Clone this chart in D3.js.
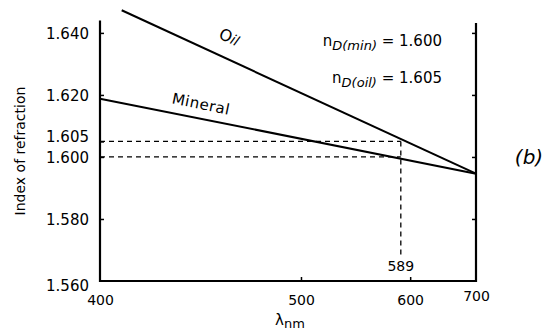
<!DOCTYPE html>
<html><head><meta charset="utf-8">
<script src="https://cdn.jsdelivr.net/npm/d3@7"></script>
<style>
body{margin:0;background:#fff;}
svg text{font-family:"DejaVu Sans",sans-serif;fill:#000;}
</style></head>
<body><svg id="c" width="547" height="335"></svg>
<script>
// Data
const xTicks = [400, 500, 600, 700];
const yLabelTicks = [1.640, 1.620, 1.605, 1.600, 1.580, 1.560];
const yRightTicks = [1.640, 1.620, 1.600, 1.580];
const oilLambda = [408, 700];
const oilN = [1.6473, 1.5946];
const mineralLambda = [400, 700];
const mineralN = [1.6188, 1.5946];
const sodiumD = 589;
const nDmin = 1.600;
const nDoil = 1.605;
const xDomain = [400, 700];
const yDomain = [1.560, 1.644];

const svg = d3.select("#c");
const x = d3.scalePow().exponent(-2).domain(xDomain).range([100, 476]);
const y = d3.scaleLinear().domain(yDomain).range([281, 20.5]);

// axes
const left = svg.append("g").attr("transform", `translate(${x(400)},0)`)
  .call(d3.axisLeft(y).tickValues(yLabelTicks).tickSize(-4).tickPadding(11).tickFormat(d3.format(".3f")));
left.select(".domain").remove();
left.selectAll("text").style("font-size", "15px").attr("dy", d => d === 1.605 ? "-0.0em" : d === 1.560 ? "0.6em" : "0.35em");
left.selectAll("line").attr("stroke-width", 1.5).filter(d => d === 1.560).remove();

const right = svg.append("g").attr("transform", `translate(${x(700)},0)`)
  .call(d3.axisRight(y).tickValues(yRightTicks).tickSize(-4).tickFormat(""));
right.select(".domain").remove();
right.selectAll("line").attr("stroke-width", 1.5);

const bottom = svg.append("g").attr("transform", `translate(0,${y(yDomain[0])})`)
  .call(d3.axisBottom(x).tickValues(xTicks).tickSize(-4).tickPadding(14).tickFormat(d3.format("d")));
bottom.select(".domain").remove();
bottom.selectAll("text").style("font-size", "14px").attr("dy", d => d === 700 ? "0.4em" : "0.71em");
bottom.selectAll("line").attr("stroke-width", 1.5).filter(d => d === 400 || d === 700).remove();

// frame lines
svg.append("line").attr("x1", x(400)).attr("x2", x(400)).attr("y1", y(yDomain[1])).attr("y2", y(yDomain[0]) + 1)
  .attr("stroke", "#000").attr("stroke-width", 2.2);
svg.append("line").attr("x1", x(700)).attr("x2", x(700)).attr("y1", y(yDomain[1]) + 2.5).attr("y2", y(yDomain[0]) + 1)
  .attr("stroke", "#000").attr("stroke-width", 2.2);
svg.append("line").attr("x1", x(400) - 1).attr("x2", x(700) + 1).attr("y1", y(yDomain[0])).attr("y2", y(yDomain[0]))
  .attr("stroke", "#000").attr("stroke-width", 2);

// dashed guides
const dash = "5,4";
svg.append("line").attr("x1", x(400)).attr("x2", x(sodiumD)).attr("y1", y(nDoil)).attr("y2", y(nDoil))
  .attr("stroke", "#000").attr("stroke-width", 1.3).attr("stroke-dasharray", dash);
svg.append("line").attr("x1", x(400)).attr("x2", x(sodiumD)).attr("y1", y(nDmin)).attr("y2", y(nDmin))
  .attr("stroke", "#000").attr("stroke-width", 1.3).attr("stroke-dasharray", dash);
svg.append("line").attr("x1", x(sodiumD)).attr("x2", x(sodiumD)).attr("y1", y(nDoil)).attr("y2", y(yDomain[0]) - 24)
  .attr("stroke", "#000").attr("stroke-width", 1.3).attr("stroke-dasharray", dash);
svg.append("text").attr("x", x(sodiumD)).attr("y", y(yDomain[0]) - 10).attr("text-anchor", "middle")
  .style("font-size", "14px").text(String(sodiumD));

// curves
const line = d3.line().x(d => x(d[0])).y(d => y(d[1]));
svg.append("path").attr("d", line(oilLambda.map((l, i) => [l, oilN[i]])))
  .attr("fill", "none").attr("stroke", "#000").attr("stroke-width", 2);
svg.append("path").attr("d", line(mineralLambda.map((l, i) => [l, mineralN[i]])))
  .attr("fill", "none").attr("stroke", "#000").attr("stroke-width", 2);

// line labels
svg.append("text").attr("transform", "translate(227,42) rotate(25)").attr("text-anchor", "middle")
  .style("font-size", "16px").html('O<tspan font-style="italic" font-size="14px">il</tspan>');
svg.append("text").attr("transform", "translate(200,109) rotate(11.5)").attr("text-anchor", "middle")
  .style("font-size", "15px").attr("letter-spacing", "0.5px").text("Mineral");

// annotations
const ann = svg.append("g");
const t1 = ann.append("text").attr("x", 442).attr("y", 46).attr("text-anchor", "end").style("font-size", "15px");
t1.append("tspan").text("n");
t1.append("tspan").attr("dy", 4).attr("font-style", "italic").attr("font-size", "13px").text("D(min)");
t1.append("tspan").attr("dy", -4).text(" = " + nDmin.toFixed(3));
const t2 = ann.append("text").attr("x", 442).attr("y", 83).attr("text-anchor", "end").style("font-size", "15px");
t2.append("tspan").text("n");
t2.append("tspan").attr("dy", 4).attr("font-style", "italic").attr("font-size", "13px").text("D(oil)");
t2.append("tspan").attr("dy", -4).text(" = " + nDoil.toFixed(3));

svg.append("text").attr("x", 529).attr("y", 164).attr("text-anchor", "middle")
  .style("font-size", "20px").attr("font-style", "italic").text("(b)");

// axis titles
svg.append("text").attr("transform", "translate(25,151) rotate(-90)").attr("text-anchor", "middle")
  .style("font-size", "14px").text("Index of refraction");
const xt = svg.append("text").attr("x", 290).attr("y", 325).attr("text-anchor", "middle").style("font-size", "15px");
xt.append("tspan").text("λ");
xt.append("tspan").attr("dy", 3).attr("font-size", "13px").text("nm");
</script></body></html>
